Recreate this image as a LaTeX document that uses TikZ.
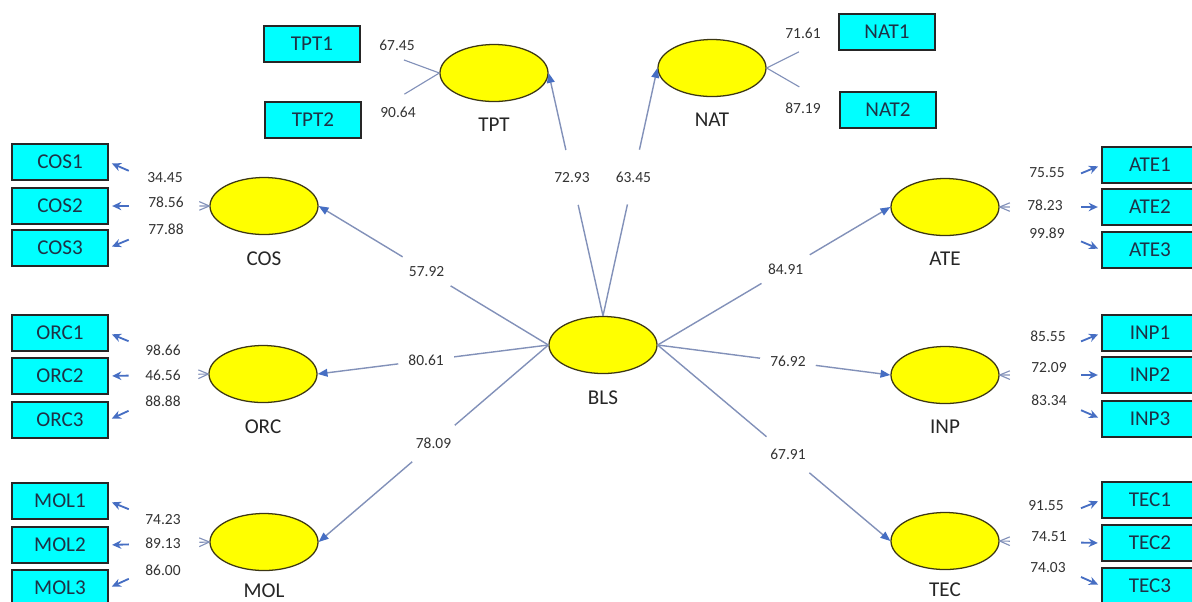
\documentclass[tikz,border=0pt]{standalone}
\usepackage{fontspec}
\setmainfont{Carlito}
\usetikzlibrary{positioning,calc,arrows.meta,shapes.geometric}

\definecolor{boxcyan}{RGB}{0,255,255}
\definecolor{latyellow}{RGB}{255,255,0}
\definecolor{latedge}{RGB}{60,55,20}
\definecolor{pathgray}{RGB}{130,145,185}
\definecolor{tipblue}{RGB}{70,110,195}
\definecolor{boxtext}{RGB}{30,50,70}

% construct side, indicator side, label position, loading, label name
\newcommand{\reflink}[5]{%
  \draw[stub] (#1) -- ($(#1)!0.1!(#2)$);
  \draw[ind] ($(#1)!0.8!(#2)$) -- (#2);
  \node[load] (#5) at (#3) {#4};}
\newcommand{\stublink}[5]{%
  \draw[stub] (#1) -- ($(#1)!0.45!(#2)$);
  \node[load] (#5) at (#3) {#4};}

\begin{document}
\begin{tikzpicture}[x=0.025cm,y=-0.025cm,
  latent/.style={ellipse, draw=latedge, line width=0.9pt, fill=latyellow,
    minimum width=2.7cm, minimum height=1.425cm, inner sep=0pt},
  manifest/.style={rectangle, draw=black!85, line width=0.9pt, fill=boxcyan,
    minimum width=2.4cm, minimum height=0.9cm, text=boxtext,
    font=\fontsize{15}{18}\selectfont},
  clab/.style={inner sep=0pt, text=black!85, font=\fontsize{15}{18}\selectfont},
  load/.style={inner sep=1pt, text=black!80, font=\fontsize{11}{13}\selectfont},
  coef/.style={circle, fill=white, minimum size=1.4cm, inner sep=0pt,
    text=black!80, font=\fontsize{11}{13}\selectfont},
  struct/.style={draw=pathgray, line width=1pt,
    -{Triangle[length=7pt,width=5.5pt,color=tipblue]}},
  stub/.style={draw=pathgray, line width=0.8pt},
  ind/.style={draw=tipblue, line width=1.3pt, shorten >=2.5pt,
    -{Stealth[length=6.5pt,width=6pt]}}]

  \useasboundingbox (0,0) rectangle (1192,601);

  % latent variables
  \node[latent] (BLS) at (603,345) {};
  \node[clab, below=0.4cm of BLS] (tBLS) {BLS};
  \node[latent] (TPT) at (494,73) {};
  \node[clab, below=0.4cm of TPT] (tTPT) {TPT};
  \node[latent] (NAT) at (712,68) {};
  \node[clab, below=0.4cm of NAT] (tNAT) {NAT};
  \node[latent] (COS) at (264,206) {};
  \node[clab, below=0.4cm of COS] (tCOS) {COS};
  \node[latent] (ORC) at (263,374) {};
  \node[clab, below=0.4cm of ORC] (tORC) {ORC};
  \node[latent] (MOL) at (264,542) {};
  \node[clab, below=0.3cm of MOL] (tMOL) {MOL};
  \node[latent] (ATE) at (945,207) {};
  \node[clab, below=0.4cm of ATE] (tATE) {ATE};
  \node[latent] (INP) at (945,375) {};
  \node[clab, below=0.4cm of INP] (tINP) {INP};
  \node[latent] (TEC) at (945,541) {};
  \node[clab, below=0.3cm of TEC] (tTEC) {TEC};

  % indicators
  \node[manifest] (TPT1) at (312,44) {TPT1};
  \node[manifest] (TPT2) at (313,120) {TPT2};
  \node[manifest] (NAT1) at (887,32) {NAT1};
  \node[manifest] (NAT2) at (888,110) {NAT2};
  \node[manifest] (COS1) at (60,162) {COS1};
  \node[manifest] (COS2) at (60,206) {COS2};
  \node[manifest] (COS3) at (60,248) {COS3};
  \node[manifest] (ORC1) at (60,333) {ORC1};
  \node[manifest] (ORC2) at (60,376) {ORC2};
  \node[manifest] (ORC3) at (60,420) {ORC3};
  \node[manifest] (MOL1) at (60,501) {MOL1};
  \node[manifest] (MOL2) at (60,545) {MOL2};
  \node[manifest] (MOL3) at (60,588) {MOL3};
  \node[manifest] (ATE1) at (1150,165) {ATE1};
  \node[manifest] (ATE2) at (1150,207) {ATE2};
  \node[manifest] (ATE3) at (1150,250) {ATE3};
  \node[manifest] (INP1) at (1150,333) {INP1};
  \node[manifest] (INP2) at (1150,375) {INP2};
  \node[manifest] (INP3) at (1150,419) {INP3};
  \node[manifest] (TEC1) at (1150,500) {TEC1};
  \node[manifest] (TEC2) at (1150,543) {TEC2};
  \node[manifest] (TEC3) at (1150,586) {TEC3};

  % structural paths
  \draw[struct] (BLS.north) -- node[coef, pos=0.57] (cTPT) {72.93} (TPT.east);
  \draw[struct] (BLS.north) -- node[coef, pos=0.56] (cNAT) {63.45} (NAT.west);
  \draw[struct] (BLS.west) -- node[coef, pos=0.53] (cCOS) {57.92} (COS.east);
  \draw[struct] (BLS.west) -- node[coef, pos=0.53] (cORC) {80.61} (ORC.east);
  \draw[struct] (BLS.west) -- node[coef, pos=0.50] (cMOL) {78.09} (MOL.east);
  \draw[struct] (BLS.east) -- node[coef, pos=0.55] (cATE) {84.91} (ATE.west);
  \draw[struct] (BLS.east) -- node[coef, pos=0.56] (cINP) {76.92} (INP.west);
  \draw[struct] (BLS.east) -- node[coef, pos=0.56] (cTEC) {67.91} (TEC.west);

  % outer loadings
  \stublink{TPT.west}{TPT1.east}{397,45}{67.45}{lTPT1}
  \stublink{TPT.west}{TPT2.east}{398,112}{90.64}{lTPT2}
  \stublink{NAT.east}{NAT1.west}{803,33}{71.61}{lNAT1}
  \stublink{NAT.east}{NAT2.west}{803,108}{87.19}{lNAT2}
  \reflink{COS.west}{COS1.east}{165,178}{34.45}{lCOS1}
  \reflink{COS.west}{COS2.east}{166,202}{78.56}{lCOS2}
  \reflink{COS.west}{COS3.east}{166,229}{77.88}{lCOS3}
  \reflink{ORC.west}{ORC1.east}{163,350}{98.66}{lORC1}
  \reflink{ORC.west}{ORC2.east}{163,375}{46.56}{lORC2}
  \reflink{ORC.west}{ORC3.east}{163,401}{88.88}{lORC3}
  \reflink{MOL.west}{MOL1.east}{163,520}{74.23}{lMOL1}
  \reflink{MOL.west}{MOL2.east}{163,543}{89.13}{lMOL2}
  \reflink{MOL.west}{MOL3.east}{163,570}{86.00}{lMOL3}
  \reflink{ATE.east}{ATE1.west}{1047,173}{75.55}{lATE1}
  \reflink{ATE.east}{ATE2.west}{1045,205}{78.23}{lATE2}
  \reflink{ATE.east}{ATE3.west}{1047,233}{99.89}{lATE3}
  \reflink{INP.east}{INP1.west}{1048,336}{85.55}{lINP1}
  \reflink{INP.east}{INP2.west}{1049,368}{72.09}{lINP2}
  \reflink{INP.east}{INP3.west}{1049,400}{83.34}{lINP3}
  \reflink{TEC.east}{TEC1.west}{1046,506}{91.55}{lTEC1}
  \reflink{TEC.east}{TEC2.west}{1049,537}{74.51}{lTEC2}
  \reflink{TEC.east}{TEC3.west}{1048,568}{74.03}{lTEC3}

\end{tikzpicture}
\end{document}
